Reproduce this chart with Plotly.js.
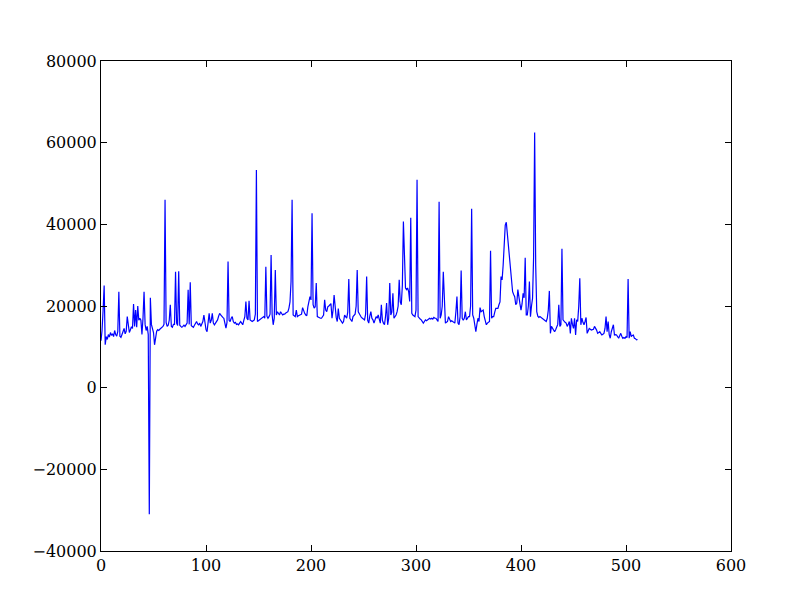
<!DOCTYPE html>
<html>
<head>
<meta charset="utf-8">
<script src="https://cdn.plot.ly/plotly-3.0.1.min.js"></script>
<style>html,body{margin:0;padding:0;background:#fff;}#chart{width:812px;height:612px;}</style>
</head>
<body>
<div id="chart"></div>
<script>
var values = [
11500,14000,19000,25000,10500,12500,11800,13000,12400,13500,
12800,13200,12500,14000,13000,12600,13800,23500,12600,12300,
13000,13700,14500,13200,13800,17400,15000,13500,14200,14900,
14500,20500,15000,19000,14800,20000,16500,17000,16500,13000,
17000,23500,15500,14000,15000,13000,-31000,22000,15500,14500,
13500,10500,12500,13800,14200,14000,14300,14500,14800,15000,
15500,46000,16000,15000,15300,16500,20300,15000,14800,15500,
15500,28400,15800,15200,28500,15300,15000,14800,15000,15300,
15000,15300,15800,24000,15500,25800,15200,15000,14800,15300,
16000,16200,15600,15400,15800,15000,15600,16200,17800,16000,
14200,13700,16000,18200,15800,16500,18200,15800,15400,15800,
16200,16600,17500,18200,17800,17400,17200,17000,15400,14600,
16000,30900,16500,16200,17000,17400,16200,15800,16000,15500,
15600,15400,15800,16200,15800,15400,16500,17400,21100,17000,
16600,21300,16600,16400,16200,16400,16600,18000,53300,16200,
16400,16600,16800,17000,17200,17400,17000,29600,17500,17000,
17400,18000,32500,17800,15400,17000,28800,17800,18600,18000,
17800,18600,18200,17800,18000,18000,18300,18500,18600,19500,
21000,26000,46000,17800,17600,17400,19000,17400,17600,17800,
18000,18000,19600,18800,18200,17800,17600,19800,21000,22300,
21500,42700,20300,19500,19800,25600,17400,17200,17000,17000,
17000,17400,17800,21500,19000,18600,19800,20000,20300,20600,
17000,19000,22700,18600,17200,16200,19400,17000,16600,16000,
15800,16200,17800,17400,17000,18500,26600,17000,16600,16200,
17400,17600,18000,20000,28800,18600,18000,17400,17200,17000,
16800,16600,18000,27200,16500,15800,17500,18600,17000,16600,
15800,16500,17400,17000,17800,16800,15800,20300,16500,15800,
15400,17500,20700,15400,17000,25600,17800,18500,23100,17000,
17400,17800,18600,20000,26400,21000,20300,25000,40700,30900,
24400,24000,24400,23500,21100,41600,18200,17800,17600,17400,
19000,50900,17400,17000,16800,16600,16200,15800,16200,16600,
16400,16600,16800,17000,16800,17000,16800,17200,17000,17000,
16600,16200,45500,17000,17800,20000,28400,18600,15800,16000,
16200,17400,16800,16200,16400,16200,16000,15800,18600,22300,
15800,15400,17400,28700,17000,16500,17000,18600,16600,17000,
17400,17400,20000,43800,17800,17000,15500,13700,15500,17000,
16200,19600,18600,18800,19000,17400,16500,15400,15800,16000,
16200,33500,17000,17400,17400,18500,19400,19400,19400,20300,
21000,27200,26400,30000,36000,39800,40500,37400,34000,31000,
28000,25500,23500,22800,22300,20300,20700,24000,21500,20500,
19000,20500,23100,22000,31800,17800,17800,20000,26000,17400,
20000,21900,32000,62500,30000,18600,17500,17200,17400,17200,
17000,16800,16600,16400,16200,17000,19000,23700,13300,15000,
14500,14200,13700,14200,15000,15500,20300,15000,15400,34000,
16600,16200,16000,15800,15000,15500,16200,13300,17000,15500,
14500,17000,12900,16600,16200,20000,26800,15400,17000,16000,
15400,16200,17200,13300,14000,14500,14300,14100,14200,14300,
15000,14600,14100,13300,13500,13700,13300,12900,13100,13300,
14500,17400,13700,16200,13000,12100,13700,14500,15400,12900,
13000,12900,12500,12100,12700,13300,12600,12100,12300,12100,
12500,12300,26600,12100,13700,12500,12800,12900,12100,12000,
11700,11800
];
var indices = values.map(function(v, i){ return i; });
var xTickVals = [0,100,200,300,400,500,600];
var xTickText = ["0","100","200","300","400","500","600"];
var yTickVals = [-40000,-20000,0,20000,40000,60000,80000];
var yTickText = ["\u221240000","\u221220000","0","20000","40000","60000","80000"];

var font = {family: "DejaVu Serif, serif", size: 16, color: "#000"};
var axisCommon = {
  showgrid: false, zeroline: false,
  showline: true, linecolor: "#000", linewidth: 1, mirror: "ticks",
  ticks: "inside", ticklen: 6, tickwidth: 1, tickcolor: "#000",
  tickfont: font, tickmode: "array"
};
var layout = {
  width: 812, height: 612,
  margin: {l: 101, r: 81, t: 61, b: 61, pad: 0},
  paper_bgcolor: "#fff", plot_bgcolor: "#fff",
  showlegend: false,
  xaxis: Object.assign({}, axisCommon, {range: [0, 600], tickvals: xTickVals, ticktext: xTickText}),
  yaxis: Object.assign({}, axisCommon, {range: [-40000, 80000], tickvals: yTickVals, ticktext: yTickText})
};
var trace = {
  x: indices, y: values, type: "scatter", mode: "lines",
  line: {color: "#0000ff", width: 1.2}, hoverinfo: "skip"
};
Plotly.newPlot("chart", [trace], layout, {staticPlot: true, displayModeBar: false});
</script>
</body>
</html>
